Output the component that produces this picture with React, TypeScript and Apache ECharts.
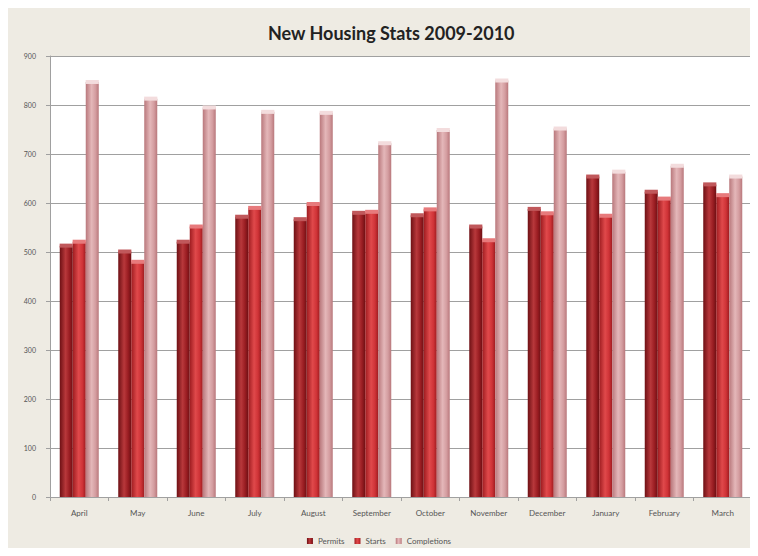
import React, { useEffect, useRef } from "react";
import * as echarts from "echarts";

const months = [
  "April", "May", "June", "July", "August", "September",
  "October", "November", "December", "January", "February", "March",
];
const permits = [513, 501, 521, 572, 567, 580, 575, 552, 588, 654, 623, 638];
const starts = [521, 480, 552, 590, 598, 582, 587, 524, 579, 574, 609, 616];
const completions = [847, 813, 795, 786, 784, 722, 749, 850, 752, 664, 676, 654];
const yTicks = { min: 0, max: 900, interval: 100 };

const cyl = (dark: string, mid: string, light: string) =>
  new echarts.graphic.LinearGradient(0, 0, 1, 0, [
    { offset: 0, color: dark },
    { offset: 0.45, color: light },
    { offset: 0.75, color: mid },
    { offset: 1, color: dark },
  ]);

const BAR_W = 13;

export default function App() {
  const ref = useRef<HTMLDivElement>(null);
  useEffect(() => {
    if (!ref.current) return;
    const chart = echarts.init(ref.current, null, { renderer: "svg" });
    const font = "Lato, 'Open Sans', sans-serif";
    const barBase = {
      type: "bar" as const,
      barGap: "0%",
      barWidth: BAR_W,
    };
    // elliptical cap drawn on top of each cylinder
    const cap = (name: string, data: number[], offset: string, color: string) => ({
      type: "pictorialBar" as const,
      name,
      data,
      symbol: "ellipse",
      symbolSize: [BAR_W, 4],
      symbolPosition: "end",
      symbolOffset: [offset, "-50%"],
      itemStyle: { color },
      z: 3,
      silent: true,
    });
    chart.setOption({
      animation: false,
      backgroundColor: "#ffffff",
      graphic: [
        {
          type: "rect",
          shape: { x: 0, y: 8, width: 758, height: 548 },
          style: { fill: "#eeebe3" },
          z: -10,
          silent: true,
        },
      ],
      title: {
        text: "New Housing Stats 2009-2010",
        left: 263,
        top: 19,
        textStyle: {
          fontFamily: font,
          fontSize: 18,
          fontWeight: "bold",
          color: "#222",
        },
      },
      legend: {
        bottom: 6,
        left: "center",
        itemWidth: 6,
        itemHeight: 6,
        itemGap: 10,
        icon: "rect",
        textStyle: { fontFamily: font, fontSize: 8, color: "#555" },
        data: ["Permits", "Starts", "Completions"],
      },
      grid: {
        left: 50,
        right: 6,
        top: 56,
        bottom: 59,
        show: true,
        backgroundColor: "#ffffff",
        borderWidth: 0,
      },
      xAxis: {
        type: "category",
        data: months,
        axisLine: { lineStyle: { color: "#a0a0a0" } },
        axisTick: { show: true, alignWithLabel: false, length: 4, lineStyle: { color: "#a0a0a0" } },
        axisLabel: { fontFamily: font, fontSize: 8, color: "#555", margin: 12 },
      },
      yAxis: {
        type: "value",
        min: yTicks.min,
        max: yTicks.max,
        interval: yTicks.interval,
        axisLine: { show: true, lineStyle: { color: "#a0a0a0" } },
        axisTick: { show: true, length: 4, lineStyle: { color: "#a0a0a0" } },
        splitLine: { lineStyle: { color: "#a0a0a0" } },
        axisLabel: { fontFamily: font, fontSize: 7, color: "#555", margin: 14 },
      },
      series: [
        {
          ...barBase,
          name: "Permits",
          data: permits,
          itemStyle: { color: cyl("#6e1014", "#9a1d22", "#b8383b") },
        },
        {
          ...barBase,
          name: "Starts",
          data: starts,
          itemStyle: { color: cyl("#9e1c20", "#cf3337", "#e0494b") },
        },
        {
          ...barBase,
          name: "Completions",
          data: completions,
          itemStyle: { color: cyl("#b9787c", "#d49da0", "#e4b7b9") },
        },
        cap("Permits", permits, "-100%", "#c0585b"),
        cap("Starts", starts, "0%", "#e77a7c"),
        cap("Completions", completions, "100%", "#f3dcdd"),
      ],
    });
    return () => chart.dispose();
  }, []);
  return <div ref={ref} style={{ width: 758, height: 556, margin: -8 }} />;
}
